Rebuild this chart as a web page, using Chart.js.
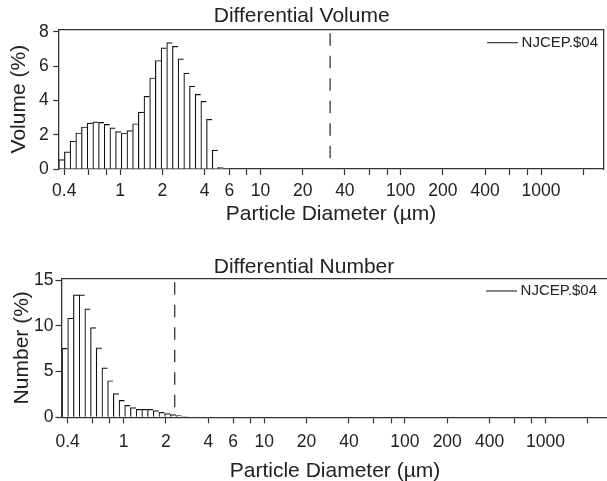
<!DOCTYPE html>
<html>
<head>
<meta charset="utf-8">
<script src="https://cdn.jsdelivr.net/npm/chart.js@4.4.1/dist/chart.umd.min.js"></script>
<style>
    body { margin: 0; background: #fff; overflow: hidden; }
    #wrap { width: 607px; height: 481px; overflow: hidden; }
    canvas { display: block; }
</style>
</head>
<body>
<div id="wrap">
    <canvas id="volumeChart" width="607" height="240"></canvas>
    <canvas id="numberChart" width="612" height="241"></canvas>
</div>
<script>
// channel mid diameters (um)
const binCenters = [0.3824, 0.4198, 0.4608, 0.5060, 0.5555, 0.6098, 0.6694, 0.7351, 0.8067, 0.8856,
    0.9722, 1.067, 1.172, 1.286, 1.412, 1.550, 1.702, 1.868, 2.051, 2.251,
    2.472, 2.713, 2.979, 3.270, 3.590, 3.941, 4.326, 4.749, 5.213, 5.723];

const volumeValues = [0.55, 1.0, 1.62, 2.1, 2.45, 2.68, 2.75, 2.72, 2.6, 2.4,
    2.18, 2.1, 2.24, 2.64, 3.32, 4.24, 5.31, 6.33, 7.07, 7.37,
    7.16, 6.43, 5.6, 4.84, 4.35, 3.95, 2.9, 1.1, 0.1, 0.02];

const numberValues = [7.55, 10.85, 13.4, 13.4, 11.85, 9.8, 7.6, 5.4, 4.0, 2.6,
    1.85, 1.3, 1.05, 0.87, 0.87, 0.87, 0.73, 0.55, 0.4, 0.29,
    0.18, 0.08, 0.04, 0.03, 0.02, 0.02, 0.01, 0.01];

const tickValues = [0.4, 0.6, 0.8, 1, 2, 4, 6, 8, 10, 20, 40, 60, 80, 100, 200, 400, 600, 800, 1000, 2000];
const tickLabels = [0.4, 1, 2, 4, 6, 10, 20, 40, 100, 200, 400, 1000];

const sampleName = 'NJCEP.$04';
const volumeMarker = 31.4;
const numberMarker = 2.31;

const FONT = '"Liberation Sans", Arial, sans-serif';
const INK = '#222';
const LINE = '#333';

// legend drawn inside the plot, top right
const cornerLegend = {
    id: 'cornerLegend',
    afterDraw(chart, args, opts) {
        const ctx = chart.ctx;
        const label = chart.data.datasets[0].label;
        ctx.save();
        ctx.font = '15px ' + FONT;
        ctx.fillStyle = INK;
        ctx.textBaseline = 'middle';
        const w = ctx.measureText(label).width;
        const y = chart.chartArea.top + opts.dy;
        const x = opts.textRight - w;
        ctx.fillText(label, x, y);
        ctx.strokeStyle = LINE;
        ctx.lineWidth = 1.2;
        ctx.beginPath();
        ctx.moveTo(x - 34.5, y);
        ctx.lineTo(x - 3.5, y);
        ctx.stroke();
        ctx.restore();
    }
};

function makeChart(id, cfg) {
    const ctx = document.getElementById(id).getContext('2d');
    const bars = cfg.values.map((v, i) => ({ x: binCenters[i], y: v }));

    return new Chart(ctx, {
        type: 'bar',
        data: {
            datasets: [
                {
                    type: 'bar',
                    label: sampleName,
                    data: bars,
                    backgroundColor: '#fff',
                    borderColor: '#111',
                    borderWidth: { top: 1.2, left: 1.2, right: 0, bottom: 0 },
                    barPercentage: 1,
                    categoryPercentage: 1,
                    order: 2
                },
                {
                    type: 'line',
                    label: 'marker',
                    data: [{ x: cfg.marker, y: cfg.yMax }, { x: cfg.marker, y: 0 }],
                    borderColor: LINE,
                    borderWidth: 1.3,
                    borderDash: [12.5, 10],
                    borderDashOffset: 18.5,
                    pointRadius: 0,
                    fill: false,
                    order: 1
                }
            ]
        },
        plugins: [cornerLegend],
        options: {
            responsive: false,
            animation: false,
            layout: { padding: { left: 0, right: cfg.padRight, top: 0, bottom: 0 } },
            plugins: {
                legend: { display: false },
                tooltip: { enabled: false },
                title: {
                    display: true,
                    text: cfg.title,
                    color: INK,
                    font: { family: FONT, size: 21, weight: 'normal', lineHeight: 1 },
                    padding: cfg.titlePad
                },
                cornerLegend: cfg.legend
            },
            scales: {
                x: {
                    type: 'logarithmic',
                    min: 0.365,
                    max: 2780,
                    offset: false,
                    afterBuildTicks: (axis) => {
                        axis.ticks = tickValues.map(v => ({ value: v }));
                    },
                    afterFit: (axis) => { axis.height = cfg.xAxisHeight; },
                    ticks: {
                        autoSkip: false,
                        maxRotation: 0,
                        padding: cfg.xTickPad,
                        color: INK,
                        font: { family: FONT, size: 17.5 },
                        callback: (v) => tickLabels.includes(v) ? String(v) : ''
                    },
                    grid: { display: true, drawOnChartArea: false, drawTicks: true, tickLength: 6, tickColor: LINE, tickWidth: 1.2, offset: false },
                    border: { display: true, color: LINE, width: 1.3 },
                    title: {
                        display: true,
                        text: 'Particle Diameter (µm)',
                        color: INK,
                        font: { family: FONT, size: 21 },
                        padding: { top: 0, bottom: cfg.xTitlePad }
                    }
                },
                y: {
                    min: 0,
                    max: cfg.yMax,
                    afterFit: (axis) => { axis.width = cfg.yAxisWidth; },
                    ticks: {
                        stepSize: cfg.yStep,
                        includeBounds: false,
                        padding: cfg.yTickPad,
                        color: INK,
                        font: { family: FONT, size: 17.5 }
                    },
                    grid: { display: true, drawOnChartArea: false, drawTicks: true, tickLength: cfg.yTickLen, tickColor: LINE, tickWidth: 1.2 },
                    border: { display: true, color: LINE, width: 1.3 },
                    title: {
                        display: true,
                        text: cfg.yTitle,
                        color: INK,
                        font: { family: FONT, size: 21 },
                        padding: { top: cfg.yTitlePad, bottom: 0 }
                    }
                },
                // frame: top and right edges
                x2: {
                    type: 'linear',
                    position: 'top',
                    ticks: { display: false },
                    grid: { display: false, drawTicks: false },
                    border: { display: true, color: LINE, width: 1.3 }
                },
                y2: {
                    type: 'linear',
                    position: 'right',
                    ticks: { display: false },
                    grid: { display: false, drawTicks: false },
                    border: { display: true, color: LINE, width: 1.3 }
                }
            }
        }
    });
}

makeChart('volumeChart', {
    title: 'Differential Volume',
    yTitle: 'Volume (%)',
    values: volumeValues,
    marker: volumeMarker,
    yMax: 8.15,
    yStep: 2,
    padRight: 3.7,
    titlePad: { top: 6, bottom: 2.3 },
    xAxisHeight: 71,
    xTickPad: 6,
    xTitlePad: 13.4,
    yAxisWidth: 58.7,
    yTickLen: 5.5,
    yTickPad: 4.5,
    yTitlePad: 7,
    legend: { textRight: 598, dy: 13.4 }
});

makeChart('numberChart', {
    title: 'Differential Number',
    yTitle: 'Number (%)',
    values: numberValues,
    marker: numberMarker,
    yMax: 15.2,
    yStep: 5,
    padRight: 4,
    titlePad: { top: 17, bottom: 0.3 },
    xAxisHeight: 63.7,
    xTickPad: 8,
    xTitlePad: -3,
    yAxisWidth: 62,
    yTickLen: 6.5,
    yTickPad: 2,
    yTitlePad: 9.5,
    legend: { textRight: 597, dy: 12.7 }
});
</script>
</body>
</html>
